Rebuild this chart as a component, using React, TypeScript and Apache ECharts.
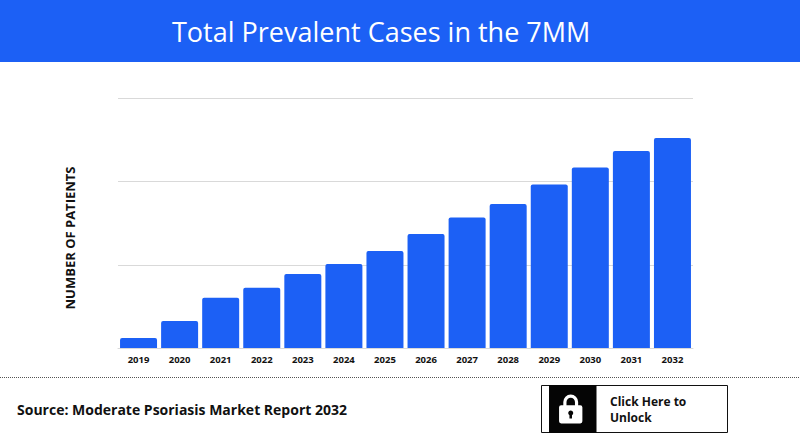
import React, { useEffect, useRef } from "react";
import * as echarts from "echarts";

const years = ["2019","2020","2021","2022","2023","2024","2025","2026","2027","2028","2029","2030","2031","2032"];
const patients = [12, 32.5, 60.5, 72.5, 89, 101, 116.5, 137, 157, 173, 196.5, 217, 237, 252.5];
const titleText = "Total Prevalent Cases in the 7MM";
const yAxisName = "NUMBER OF PATIENTS";
const sourceText = "Source: Moderate Psoriasis Market Report 2032";
const buttonLines = "Click Here to\nUnlock";

const BLUE = "#1c60f5";
const FONT = "'Open Sans', sans-serif";

const lockPath =
  "M5 10 V7 A7 7 0 0 1 19 7 V10 H21 A2 2 0 0 1 23 12 V25 A2 2 0 0 1 21 27 H3 A2 2 0 0 1 1 25 V12 A2 2 0 0 1 3 10 Z " +
  "M8 10 H16 V7 A4 4 0 0 0 8 7 Z " +
  "M12 15 A2.3 2.3 0 0 0 10.8 19.3 V22.5 H13.2 V19.3 A2.3 2.3 0 0 0 12 15 Z";
echarts.graphic.registerShape("lockIcon", echarts.graphic.extendPath(lockPath, {}) as any);

export default function App() {
  const ref = useRef<HTMLDivElement>(null);
  useEffect(() => {
    document.body.style.margin = "0";
    const chart = echarts.init(ref.current!, undefined, { renderer: "svg" });
    chart.setOption({
      animation: false,
      backgroundColor: "#ffffff",
      grid: { left: 118, right: 107, top: 98.5, bottom: 95, containLabel: false },
      xAxis: {
        type: "category",
        data: years,
        axisLine: { lineStyle: { color: "#d9d9d9", width: 1 } },
        axisTick: { show: false },
        axisLabel: { color: "#111111", fontFamily: FONT, fontWeight: 700, fontSize: 9.5, margin: 6, interval: 0 },
      },
      yAxis: {
        type: "value",
        min: 0,
        max: 300,
        interval: 100,
        axisLine: { show: false },
        axisTick: { show: false },
        axisLabel: { show: false },
        splitLine: { lineStyle: { color: "#d9d9d9", width: 1 } },
      },
      series: [
        {
          type: "bar",
          data: patients,
          barWidth: 37,
          itemStyle: { color: BLUE, borderRadius: [2, 2, 0, 0] },
        },
      ],
      graphic: [
        { type: "rect", z: 10, shape: { x: 0, y: 0, width: 800, height: 62 }, style: { fill: BLUE } },
        {
          type: "text", z: 11, x: 172, y: 31,
          style: { text: titleText, fill: "#ffffff", font: `400 27px ${FONT}`, textVerticalAlign: "middle", textAlign: "left" },
        },
        {
          type: "text", z: 11, x: 70, y: 238, rotation: Math.PI / 2,
          style: { text: yAxisName, fill: "#111111", font: `700 13px ${FONT}`, textAlign: "center", textVerticalAlign: "middle" },
        },
        {
          type: "line", z: 11,
          shape: { x1: 0, y1: 377.5, x2: 800, y2: 377.5 },
          style: { stroke: "#555555", lineWidth: 1, lineDash: [1, 1] },
        },
        {
          type: "text", z: 11, x: 17, y: 409,
          style: { text: sourceText, fill: "#111111", font: `700 14px ${FONT}`, textVerticalAlign: "middle" },
        },
        {
          type: "rect", z: 11,
          shape: { x: 541.5, y: 385.5, width: 186, height: 47 },
          style: { fill: "#ffffff", stroke: "#111111", lineWidth: 1 },
        },
        { type: "rect", z: 12, shape: { x: 549, y: 385, width: 47.5, height: 48 }, style: { fill: "#050505" } },
        { type: "lockIcon", z: 13, x: 558, y: 394.5, scaleX: 1.06, scaleY: 1.07, style: { fill: "#ffffff" } },
        {
          type: "text", z: 13, x: 610, y: 409,
          style: { text: buttonLines, fill: "#111111", font: `700 12px ${FONT}`, lineHeight: 16, textVerticalAlign: "middle" },
        },
      ],
    });
    return () => chart.dispose();
  }, []);
  return <div ref={ref} style={{ width: 800, height: 443 }} />;
}
